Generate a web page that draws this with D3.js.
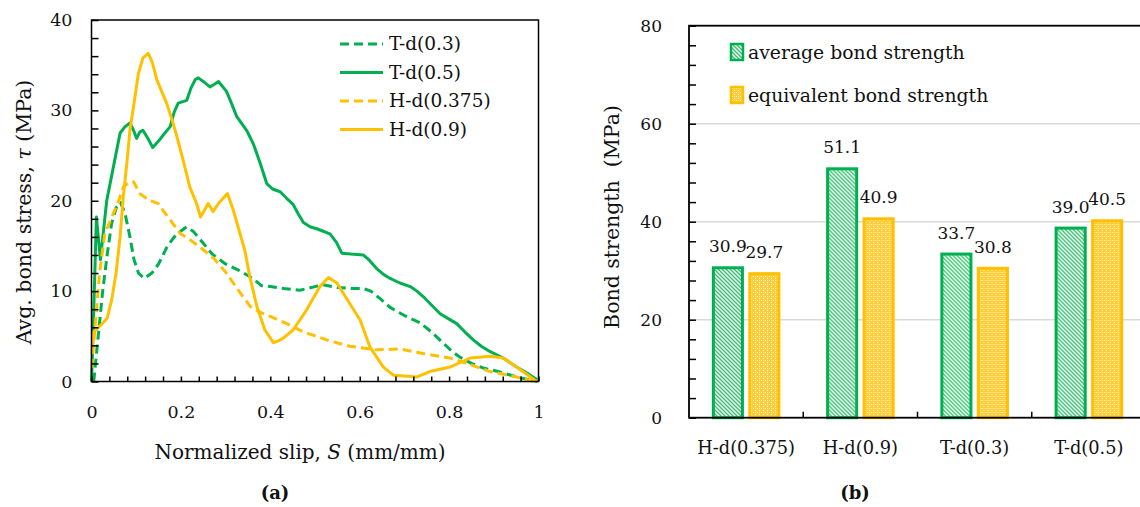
<!DOCTYPE html>
<html>
<head>
<meta charset="utf-8">
<script src="https://cdn.jsdelivr.net/npm/d3@7"></script>
<style>
body { margin: 0; background: #fff; }
svg text { font-family: "DejaVu Serif", serif; fill: #111; }
</style>
</head>
<body>
<div id="fig"></div>
<script>
// (a) bond stress vs normalized slip, [S, tau]
var tD03 = [[0.005,0],[0.015,5],[0.025,10],[0.035,14],[0.045,17.5],[0.056,19.3],[0.065,19.8],[0.075,18.6],[0.086,16],[0.095,13.5],[0.105,12],[0.118,11.4],[0.135,12],[0.15,13],[0.17,15],[0.19,16.3],[0.213,17.1],[0.228,16.6],[0.25,15.3],[0.27,14.1],[0.3,13],[0.33,12.3],[0.361,11.4],[0.38,10.6],[0.4,10.5],[0.43,10.3],[0.466,10.1],[0.5,10.5],[0.518,10.7],[0.55,10.4],[0.58,10.3],[0.607,10.3],[0.625,10],[0.645,9.2],[0.668,8.2],[0.7,7.3],[0.735,6.5],[0.76,5.5],[0.786,4.3],[0.805,3.4],[0.824,2.7],[0.85,2],[0.876,1.5],[0.91,1.1],[0.951,0.5],[0.998,0]];
var tD05 = [[0,0],[0.004,6],[0.011,18.2],[0.02,13.5],[0.034,20],[0.05,24],[0.064,27.5],[0.075,28.2],[0.086,28.6],[0.094,27.8],[0.101,26.9],[0.108,27.6],[0.115,27.8],[0.125,27],[0.137,25.9],[0.15,26.6],[0.161,27.3],[0.176,28.2],[0.185,29.8],[0.194,30.8],[0.213,31.1],[0.222,32.4],[0.232,33.4],[0.239,33.6],[0.25,33.2],[0.265,32.6],[0.275,32.9],[0.284,33.2],[0.302,32.1],[0.313,30.8],[0.325,29.3],[0.347,27.8],[0.362,26.3],[0.377,24.2],[0.392,21.9],[0.405,21.3],[0.422,21],[0.436,20.3],[0.451,19.6],[0.463,18.5],[0.474,17.6],[0.49,17.1],[0.504,16.9],[0.52,16.6],[0.534,16.3],[0.548,15.4],[0.56,14.2],[0.58,14.1],[0.608,14],[0.622,13.4],[0.638,12.5],[0.652,11.9],[0.668,11.4],[0.69,10.9],[0.713,10.5],[0.728,10],[0.742,9.4],[0.76,8.5],[0.78,7.5],[0.8,6.9],[0.817,6.4],[0.835,5.5],[0.854,4.6],[0.872,3.9],[0.892,3.3],[0.921,2.6],[0.936,2.1],[0.951,1.6],[0.975,0.9],[0.997,0.2]];
var hD0375 = [[0,1.5],[0.008,6],[0.018,12],[0.03,16.4],[0.049,18.6],[0.06,19.9],[0.071,21.5],[0.085,22.1],[0.094,22.1],[0.108,20.8],[0.127,20.1],[0.149,19.7],[0.162,18.8],[0.176,17.9],[0.198,16.4],[0.22,15.7],[0.242,14.9],[0.274,13.6],[0.3,12.1],[0.33,10],[0.355,8.3],[0.38,7.6],[0.4,7.2],[0.437,6.4],[0.474,5.5],[0.526,4.6],[0.578,3.9],[0.638,3.5],[0.69,3.6],[0.742,3.1],[0.802,2.6],[0.839,2],[0.892,1.1],[0.951,0.5],[0.99,0]];
var hD09 = [[0,3],[0.005,5.5],[0.02,6.2],[0.035,7],[0.045,9],[0.055,12],[0.064,16],[0.071,20.4],[0.079,24.1],[0.086,27.8],[0.094,30.4],[0.105,34.1],[0.115,35.8],[0.127,36.3],[0.136,35.3],[0.146,33.4],[0.157,32.1],[0.168,30.8],[0.18,29],[0.191,27.1],[0.205,24.5],[0.22,21.5],[0.235,19.7],[0.244,18.2],[0.252,18.9],[0.261,19.7],[0.272,18.8],[0.284,19.7],[0.295,20.3],[0.304,20.8],[0.317,19],[0.332,16.4],[0.343,14.5],[0.355,11.4],[0.37,8.3],[0.388,5.7],[0.407,4.3],[0.418,4.5],[0.429,4.8],[0.451,5.7],[0.481,7.9],[0.511,10.5],[0.53,11.5],[0.549,10.9],[0.578,8.6],[0.601,6.8],[0.623,3.8],[0.653,1.6],[0.675,0.7],[0.7,0.6],[0.728,0.5],[0.757,1.1],[0.802,1.6],[0.847,2.6],[0.892,2.8],[0.921,2.6],[0.951,1.6],[0.996,0]];
var lineNames = ["T-d(0.3)", "T-d(0.5)", "H-d(0.375)", "H-d(0.9)"];
var slipTicks = [0, 0.2, 0.4, 0.6, 0.8, 1];
var stressTicks = [0, 10, 20, 30, 40];

// (b) bond strength
var categories = ["H-d(0.375)", "H-d(0.9)", "T-d(0.3)", "T-d(0.5)"];
var seriesNames = ["average bond strength", "equivalent bond strength"];
var avgBond = [30.9, 51.1, 33.7, 39.0];
var eqvBond = [29.7, 40.9, 30.8, 40.5];
var strengthTicks = [0, 20, 40, 60, 80];

var green = "#00b050", yellow = "#ffc000";

var svg = d3.select("#fig").append("svg")
    .attr("width", 1140)
    .attr("height", 507);

// patterns
var defs = svg.append("defs");
var hatch = defs.append("pattern")
    .attr("id", "hatch")
    .attr("patternUnits", "userSpaceOnUse")
    .attr("width", 4).attr("height", 4);
hatch.append("rect").attr("width", 4).attr("height", 4).attr("fill", "#fff");
hatch.append("path")
    .attr("d", "M-1,-1L5,5M-1,3L1,5M3,-1L5,1")
    .attr("stroke", "#2fbf6a").attr("stroke-width", 1.3);
var dots = defs.append("pattern")
    .attr("id", "dots")
    .attr("patternUnits", "userSpaceOnUse")
    .attr("width", 4).attr("height", 4);
dots.append("rect").attr("width", 4).attr("height", 4).attr("fill", "#ffcc33");
dots.append("rect").attr("x", 0).attr("y", 0).attr("width", 1).attr("height", 1).attr("fill", "#fff");
dots.append("rect").attr("x", 2).attr("y", 2).attr("width", 1).attr("height", 1).attr("fill", "#fff");
dots.append("rect").attr("x", 2).attr("y", 0).attr("width", 1).attr("height", 1).attr("fill", "#ffeaa0");

// ---------- chart (a) ----------
var xA = d3.scaleLinear().domain([0, 1]).range([91.5, 538.5]);
var yA = d3.scaleLinear().domain([0, 40]).range([381.5, 20]);
var gA = svg.append("g");

var series = [tD03, tD05, hD0375, hD09];
var lineColors = [green, green, yellow, yellow];
var lineDash = ["9,5", null, "9,5", null];
var line = d3.line().x(d => xA(d[0])).y(d => yA(d[1]));

series.forEach(function (s, i) {
    gA.append("path")
        .datum(s)
        .attr("d", line)
        .attr("fill", "none")
        .attr("stroke", lineColors[i])
        .attr("stroke-width", 3)
        .attr("stroke-linejoin", "round")
        .attr("stroke-dasharray", lineDash[i]);
});

// minor ticks (inward)
gA.append("g")
    .attr("transform", "translate(0," + yA(0) + ")")
    .call(d3.axisTop(xA).tickValues(d3.range(0, 1.001, 0.04)).tickSize(5).tickFormat(""))
    .call(g => g.select(".domain").remove())
    .selectAll("line").attr("stroke", "#000").attr("stroke-width", 1.5);
gA.append("g")
    .attr("transform", "translate(" + xA(0) + ",0)")
    .call(d3.axisRight(yA).tickValues(d3.range(0, 40.1, 2)).tickSize(7).tickFormat(""))
    .call(g => g.select(".domain").remove())
    .selectAll("line").attr("stroke", "#000").attr("stroke-width", 1.5);

gA.append("rect")
    .attr("x", xA(0)).attr("y", yA(40))
    .attr("width", xA(1) - xA(0)).attr("height", yA(0) - yA(40))
    .attr("fill", "none").attr("stroke", "#000").attr("stroke-width", 1.5);

var axA = gA.append("g")
    .attr("transform", "translate(0," + yA(0) + ")")
    .call(d3.axisBottom(xA).tickValues(slipTicks).tickSize(0).tickPadding(24).tickFormat(d => d));
var ayA = gA.append("g")
    .attr("transform", "translate(" + xA(0) + ",0)")
    .call(d3.axisLeft(yA).tickValues(stressTicks).tickSize(0).tickPadding(19));
[axA, ayA].forEach(function (a) {
    a.select(".domain").remove();
    a.selectAll("text").style("font-size", "17.5px").attr("fill", "#111").style("font-family", "DejaVu Serif");
});

var xt = gA.append("text")
    .attr("x", 300).attr("y", 459)
    .attr("text-anchor", "middle")
    .style("font-size", "20px");
xt.append("tspan").text("Normalized slip, ");
xt.append("tspan").style("font-style", "italic").text("S");
xt.append("tspan").text(" (mm/mm)");

var yt = gA.append("text")
    .attr("transform", "translate(31,212) rotate(-90)")
    .attr("text-anchor", "middle")
    .style("font-size", "20.5px");
yt.append("tspan").text("Avg. bond stress, ");
yt.append("tspan").style("font-style", "italic").text("\u03c4");
yt.append("tspan").text(" (MPa)");

// legend (a)
var legA = gA.append("g");
lineNames.forEach(function (n, i) {
    var y = 44 + i * 28.5;
    legA.append("line")
        .attr("x1", 340).attr("x2", 383).attr("y1", y).attr("y2", y)
        .attr("stroke", lineColors[i]).attr("stroke-width", 3)
        .attr("stroke-dasharray", lineDash[i]);
    legA.append("text")
        .attr("x", 389).attr("y", y).attr("dy", "0.35em")
        .style("font-size", "18.5px")
        .text(n);
});

gA.append("text")
    .attr("x", 275).attr("y", 499)
    .attr("text-anchor", "middle")
    .style("font-size", "18px").style("font-weight", "bold")
    .text("(a)");

// ---------- chart (b) ----------
var x0 = d3.scaleBand().domain(categories).range([689, 1146]);
var x1 = d3.scaleBand().domain(seriesNames)
    .range([x0.bandwidth() * 0.2, x0.bandwidth() * 0.8]).paddingInner(0.12);
var yB = d3.scaleLinear().domain([0, 80]).range([417.7, 25.7]);
var gB = svg.append("g");

gB.selectAll(".grid")
    .data([20, 40, 60])
    .enter().append("line")
    .attr("x1", x0.range()[0]).attr("x2", x0.range()[1])
    .attr("y1", d => yB(d)).attr("y2", d => yB(d))
    .attr("stroke", "#d9d9d9").attr("stroke-width", 1.5);

var barRows = categories.map(function (c, i) {
    return [{ s: seriesNames[0], v: avgBond[i], fill: "url(#hatch)", stroke: green },
            { s: seriesNames[1], v: eqvBond[i], fill: "url(#dots)", stroke: yellow }];
});

var groups = gB.selectAll(".grp")
    .data(categories)
    .enter().append("g")
    .attr("transform", d => "translate(" + x0(d) + ",0)");

groups.selectAll("rect")
    .data((d, i) => barRows[i])
    .enter().append("rect")
    .attr("x", d => x1(d.s) + 1.5)
    .attr("width", x1.bandwidth() - 3)
    .attr("y", d => yB(d.v) + 1.5)
    .attr("height", d => yB(0) - yB(d.v) - 1.5)
    .attr("fill", d => d.fill)
    .attr("stroke", d => d.stroke)
    .attr("stroke-width", 3);

groups.selectAll(".val")
    .data((d, i) => barRows[i])
    .enter().append("text")
    .attr("x", d => x1(d.s) + x1.bandwidth() / 2)
    .attr("y", d => yB(d.v) - 14)
    .attr("text-anchor", "middle")
    .style("font-size", "17px")
    .text(d => d.v.toFixed(1));

// ticks
gB.append("g")
    .attr("transform", "translate(" + x0.range()[0] + ",0)")
    .call(d3.axisRight(yB).tickValues(d3.range(0, 80.1, 4)).tickSize(7).tickFormat(""))
    .call(g => g.select(".domain").remove())
    .selectAll("line").attr("stroke", "#000").attr("stroke-width", 1.5);
gB.selectAll(".sep")
    .data(categories.slice(1))
    .enter().append("line")
    .attr("x1", d => x0(d)).attr("x2", d => x0(d))
    .attr("y1", yB(0)).attr("y2", yB(0) - 6)
    .attr("stroke", "#000").attr("stroke-width", 1.5);

gB.append("rect")
    .attr("x", x0.range()[0]).attr("y", yB(80))
    .attr("width", x0.range()[1] - x0.range()[0]).attr("height", yB(0) - yB(80))
    .attr("fill", "none").attr("stroke", "#000").attr("stroke-width", 1.8);

var axB = gB.append("g")
    .attr("transform", "translate(0," + yB(0) + ")")
    .call(d3.axisBottom(x0).tickSize(0).tickPadding(24));
var ayB = gB.append("g")
    .attr("transform", "translate(" + x0.range()[0] + ",0)")
    .call(d3.axisLeft(yB).tickValues(strengthTicks).tickSize(0).tickPadding(27));
axB.select(".domain").remove();
ayB.select(".domain").remove();
axB.selectAll("text").style("font-size", "17.8px").attr("fill", "#111").style("font-family", "DejaVu Serif");
ayB.selectAll("text").style("font-size", "17px").attr("fill", "#111").style("font-family", "DejaVu Serif");

gB.append("text")
    .attr("transform", "translate(619,217) rotate(-90)")
    .attr("text-anchor", "middle")
    .attr("xml:space", "preserve")
    .style("white-space", "pre")
    .style("font-size", "20.5px")
    .text("Bond strength  (MPa)");

// legend (b)
var legFills = ["url(#hatch)", "url(#dots)"];
var legStrokes = [green, yellow];
seriesNames.forEach(function (n, i) {
    var y = 52 + i * 43;
    gB.append("rect")
        .attr("x", 731).attr("y", y - 8)
        .attr("width", 12).attr("height", 16)
        .attr("fill", legFills[i]).attr("stroke", legStrokes[i]).attr("stroke-width", 2.5);
    gB.append("text")
        .attr("x", 748).attr("y", y).attr("dy", "0.35em")
        .style("font-size", "18.8px")
        .text(n);
});

gB.append("text")
    .attr("x", 855).attr("y", 499)
    .attr("text-anchor", "middle")
    .style("font-size", "18px").style("font-weight", "bold")
    .text("(b)");
</script>
</body>
</html>
